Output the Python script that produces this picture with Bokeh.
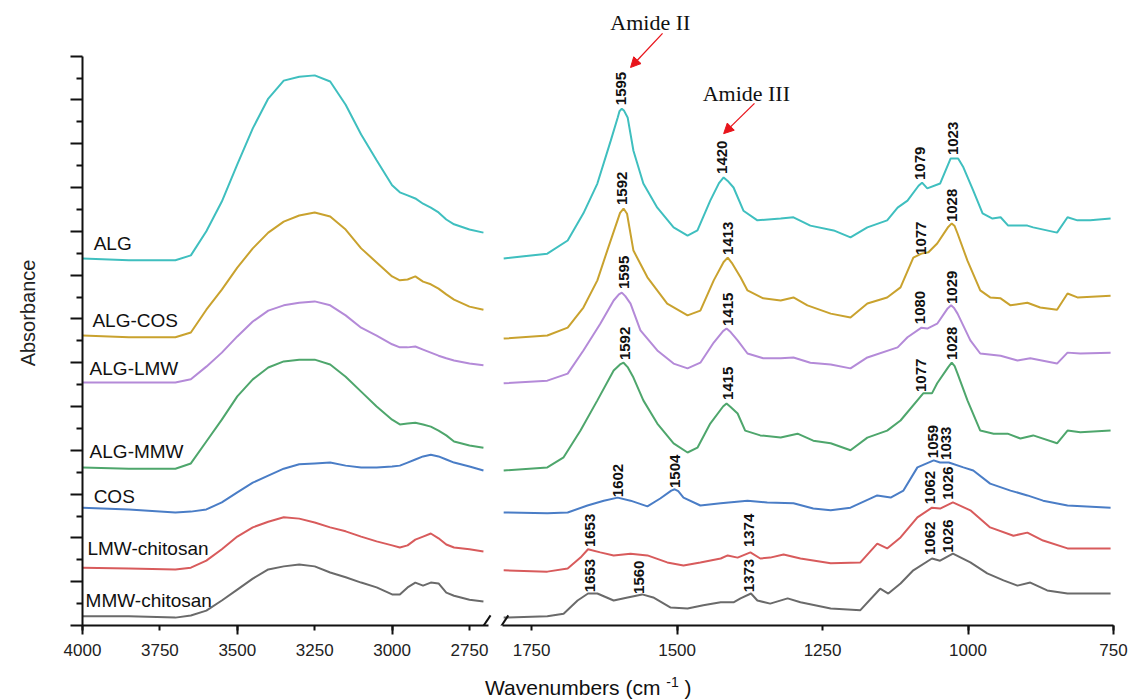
import numpy as np
from bokeh.plotting import figure
from bokeh.models import FixedTicker, Arrow, NormalHead, Div, Range1d
from bokeh.layouts import row, column
from bokeh.embed import file_html
from bokeh.resources import INLINE
from bokeh.core.properties import value

# ---------------- data ----------------
series = ["ALG", "ALG-COS", "ALG-LMW", "ALG-MMW", "COS", "LMW-chitosan", "MMW-chitosan"]
colors = ["#3fbfbf", "#c9a22e", "#b48ad8", "#4ea66c", "#4a7dc6", "#d85b5c", "#6a6a6a"]

# high-wavenumber region (4000-2700 cm-1), common grid
wn_high = [4000, 3850, 3700, 3650, 3600, 3550, 3500, 3450, 3400, 3350, 3300, 3250, 3200,
           3150, 3100, 3050, 3000, 2975, 2950, 2925, 2900, 2875, 2850, 2825, 2800, 2750, 2705]
alg_high = [0.838, 0.834, 0.834, 0.845, 0.900, 0.968, 1.053, 1.135, 1.203, 1.244, 1.253, 1.256, 1.242,
            1.189, 1.121, 1.062, 1.005, 0.989, 0.982, 0.975, 0.963, 0.954, 0.943, 0.927, 0.916, 0.904, 0.897]
algcos_high = [0.662, 0.658, 0.658, 0.669, 0.721, 0.767, 0.817, 0.861, 0.897, 0.922, 0.936, 0.943, 0.934,
               0.904, 0.861, 0.829, 0.797, 0.788, 0.790, 0.797, 0.785, 0.779, 0.769, 0.756, 0.744, 0.728, 0.721]
alglmw_high = [0.555, 0.555, 0.555, 0.562, 0.591, 0.623, 0.660, 0.694, 0.719, 0.731, 0.737, 0.740, 0.731,
               0.708, 0.680, 0.662, 0.642, 0.635, 0.635, 0.637, 0.630, 0.623, 0.616, 0.610, 0.605, 0.598, 0.594]
algmmw_high = [0.361, 0.358, 0.358, 0.370, 0.420, 0.470, 0.523, 0.562, 0.589, 0.603, 0.607, 0.607, 0.596,
               0.568, 0.534, 0.500, 0.470, 0.459, 0.461, 0.463, 0.459, 0.454, 0.445, 0.434, 0.420, 0.411, 0.406]
cos_high = [0.269, 0.265, 0.258, 0.260, 0.265, 0.281, 0.304, 0.326, 0.342, 0.358, 0.368, 0.370, 0.372,
            0.365, 0.361, 0.361, 0.363, 0.365, 0.372, 0.379, 0.386, 0.390, 0.386, 0.379, 0.372, 0.363, 0.354]
lmw_high = [0.132, 0.130, 0.128, 0.132, 0.148, 0.174, 0.203, 0.224, 0.237, 0.247, 0.244, 0.235, 0.224,
            0.215, 0.203, 0.192, 0.183, 0.178, 0.183, 0.196, 0.203, 0.210, 0.199, 0.185, 0.178, 0.174, 0.169]
mmw_high = [0.021, 0.021, 0.018, 0.023, 0.034, 0.057, 0.082, 0.107, 0.128, 0.135, 0.139, 0.135, 0.121,
            0.110, 0.098, 0.087, 0.071, 0.071, 0.087, 0.098, 0.091, 0.098, 0.096, 0.075, 0.068, 0.059, 0.055]

# fingerprint region (1800-750 cm-1), per series
alg_wn = [1798, 1723, 1688, 1661, 1637, 1614, 1602, 1599, 1595, 1591, 1585, 1575, 1558, 1534, 1506, 1482,
          1465, 1443, 1428, 1420, 1413, 1403, 1386, 1362, 1322, 1300, 1271, 1231, 1202, 1173, 1139, 1121,
          1104, 1085, 1079, 1070, 1048, 1030, 1017, 1008, 991, 975, 958, 944, 931, 898, 888, 847, 829, 812,
          790, 755]
alg_ab = [0.838, 0.849, 0.879, 0.941, 1.009, 1.107, 1.160, 1.174, 1.180, 1.175, 1.160, 1.084, 1.009, 0.954, 0.909, 0.890,
          0.902, 0.970, 1.010, 1.023, 1.015, 1.000, 0.947, 0.925, 0.929, 0.932, 0.913, 0.902, 0.886, 0.909, 0.925, 0.954,
          0.970, 1.004, 1.011, 0.998, 1.009, 1.066, 1.066, 1.046, 0.993, 0.941, 0.929, 0.932, 0.913, 0.913, 0.909, 0.897,
          0.932, 0.925, 0.925, 0.929]

algcos_wn = [1798, 1723, 1688, 1661, 1637, 1620, 1598, 1592, 1586, 1575, 1551, 1517, 1482, 1460, 1437, 1420,
             1413, 1406, 1391, 1379, 1352, 1322, 1300, 1276, 1236, 1202, 1173, 1139, 1116, 1094, 1080, 1068,
             1053, 1034, 1028, 1023, 1018, 1001, 979, 962, 944, 927, 898, 876, 847, 829, 812, 755]
algcos_ab = [0.655, 0.662, 0.680, 0.726, 0.788, 0.856, 0.942, 0.952, 0.940, 0.856, 0.795, 0.735, 0.708, 0.719, 0.788, 0.830,
             0.840, 0.828, 0.795, 0.765, 0.747, 0.742, 0.749, 0.731, 0.712, 0.703, 0.735, 0.749, 0.772, 0.840, 0.849, 0.852,
             0.872, 0.910, 0.918, 0.912, 0.895, 0.833, 0.765, 0.749, 0.747, 0.731, 0.737, 0.726, 0.721, 0.758, 0.749, 0.753]

alglmw_wn = [1798, 1723, 1688, 1661, 1632, 1609, 1600, 1595, 1589, 1580, 1563, 1534, 1506, 1482, 1460, 1437,
             1421, 1415, 1408, 1396, 1379, 1352, 1322, 1300, 1271, 1236, 1202, 1173, 1121, 1104, 1080, 1070,
             1053, 1035, 1029, 1024, 1018, 996, 979, 944, 915, 893, 847, 829, 807, 755]
alglmw_ab = [0.553, 0.559, 0.575, 0.628, 0.689, 0.742, 0.756, 0.760, 0.752, 0.735, 0.674, 0.628, 0.598, 0.587, 0.600, 0.646,
             0.672, 0.678, 0.670, 0.651, 0.621, 0.610, 0.610, 0.612, 0.600, 0.596, 0.587, 0.612, 0.635, 0.658, 0.680, 0.678,
             0.689, 0.724, 0.731, 0.725, 0.712, 0.651, 0.621, 0.616, 0.605, 0.610, 0.598, 0.623, 0.621, 0.623]

algmmw_wn = [1798, 1723, 1695, 1666, 1637, 1609, 1598, 1592, 1585, 1575, 1558, 1534, 1506, 1482, 1465, 1443,
             1421, 1415, 1408, 1396, 1383, 1357, 1322, 1293, 1266, 1236, 1202, 1173, 1139, 1116, 1077, 1062,
             1053, 1034, 1028, 1023, 1018, 1001, 979, 956, 932, 910, 888, 847, 829, 807, 755]
algmmw_ab = [0.354, 0.361, 0.384, 0.445, 0.514, 0.582, 0.596, 0.600, 0.590, 0.566, 0.514, 0.461, 0.416, 0.395, 0.406, 0.461,
             0.500, 0.507, 0.499, 0.484, 0.445, 0.434, 0.429, 0.438, 0.422, 0.416, 0.400, 0.429, 0.445, 0.468, 0.530, 0.530,
             0.553, 0.590, 0.600, 0.592, 0.575, 0.514, 0.445, 0.438, 0.438, 0.427, 0.434, 0.416, 0.445, 0.441, 0.445]

cos_wn = [1798, 1723, 1688, 1654, 1626, 1602, 1580, 1551, 1529, 1510, 1504, 1498, 1489, 1460, 1425, 1379,
          1345, 1300, 1266, 1236, 1202, 1156, 1133, 1111, 1087, 1059, 1048, 1033, 1008, 991, 962, 927, 898,
          871, 829, 755]
cos_ab = [0.258, 0.256, 0.258, 0.274, 0.285, 0.292, 0.285, 0.272, 0.290, 0.308, 0.311, 0.307, 0.292, 0.274, 0.279, 0.285,
          0.281, 0.279, 0.267, 0.263, 0.269, 0.297, 0.292, 0.308, 0.361, 0.377, 0.372, 0.372, 0.361, 0.354, 0.324, 0.308,
          0.297, 0.285, 0.274, 0.269]

lmw_wn = [1798, 1723, 1688, 1666, 1653, 1632, 1609, 1580, 1551, 1517, 1489, 1460, 1425, 1413, 1396, 1374,
          1357, 1340, 1317, 1288, 1236, 1185, 1156, 1139, 1116, 1087, 1062, 1048, 1026, 996, 962, 922, 898,
          871, 829, 755]
lmw_ab = [0.126, 0.123, 0.130, 0.155, 0.174, 0.167, 0.160, 0.164, 0.160, 0.144, 0.137, 0.144, 0.153, 0.160, 0.155, 0.167,
          0.153, 0.155, 0.162, 0.153, 0.142, 0.144, 0.187, 0.176, 0.201, 0.247, 0.269, 0.267, 0.281, 0.263, 0.224, 0.205,
          0.212, 0.194, 0.176, 0.176]

mmw_wn = [1798, 1723, 1695, 1671, 1653, 1637, 1609, 1585, 1560, 1541, 1511, 1482, 1455, 1425, 1403, 1391,
          1373, 1362, 1340, 1310, 1288, 1236, 1185, 1151, 1137, 1116, 1094, 1062, 1048, 1026, 996, 967, 939,
          915, 893, 864, 829, 755]
mmw_ab = [0.018, 0.021, 0.027, 0.057, 0.073, 0.073, 0.057, 0.064, 0.071, 0.064, 0.041, 0.039, 0.046, 0.053, 0.053, 0.062,
          0.073, 0.057, 0.050, 0.062, 0.053, 0.039, 0.035, 0.084, 0.073, 0.096, 0.126, 0.153, 0.148, 0.164, 0.144, 0.119,
          0.103, 0.091, 0.098, 0.080, 0.073, 0.073]

high_vals = [alg_high, algcos_high, alglmw_high, algmmw_high, cos_high, lmw_high, mmw_high]
low_wns = [alg_wn, algcos_wn, alglmw_wn, algmmw_wn, cos_wn, lmw_wn, mmw_wn]
low_vals = [alg_ab, algcos_ab, alglmw_ab, algmmw_ab, cos_ab, lmw_ab, mmw_ab]

# peak annotations (label text, wavenumber position, absorbance of label base)
peak_text = ["1595", "1420", "1079", "1023",
             "1592", "1413", "1077", "1028",
             "1595", "1415", "1080", "1029",
             "1592", "1415", "1077", "1028",
             "1602", "1504", "1059", "1033",
             "1653", "1374", "1062", "1026",
             "1653", "1560", "1373", "1062", "1026"]
peak_x = [1597, 1422, 1082, 1025,
          1594, 1413, 1080, 1027,
          1592, 1412, 1082, 1027,
          1590, 1412, 1080, 1027,
          1601, 1503, 1060, 1037,
          1649, 1376, 1065, 1035,
          1649, 1565, 1376, 1066, 1035]
peak_y = [1.188, 1.031, 1.017, 1.074,
          0.960, 0.846, 0.846, 0.921,
          0.768, 0.684, 0.688, 0.734,
          0.606, 0.515, 0.533, 0.606,
          0.293, 0.314, 0.382, 0.378,
          0.179, 0.179, 0.277, 0.287,
          0.076, 0.072, 0.076, 0.161, 0.166]

# series name labels (placed at left)
name_x = [3964, 3968, 3977, 3977, 3964, 3984, 3990]
name_y = [0.872, 0.696, 0.587, 0.397, 0.295, 0.176, 0.057]

# ---------------- figures ----------------
yr = Range1d(0, 625 / 438)
AX_FONT = "Liberation Sans"
INK = "#111111"

left = figure(width=493, height=670, x_range=Range1d(4000, 2672.5), y_range=yr,
              output_backend="svg", toolbar_location=None, title=None,
              min_border_left=82, min_border_right=0, min_border_top=0, min_border_bottom=45)
right = figure(width=635, height=670, x_range=Range1d(1815.5, 750), y_range=yr,
               output_backend="svg", toolbar_location=None, title=None, y_axis_location=None,
               min_border_left=0, min_border_right=15, min_border_top=0, min_border_bottom=45)

for p in (left, right):
    p.outline_line_color = None
    p.xgrid.visible = False
    p.ygrid.visible = False
    p.background_fill_color = "white"
    p.border_fill_color = "white"
    ax = p.xaxis[0]
    ax.axis_line_width = 2
    ax.axis_line_color = INK
    ax.major_tick_line_width = 2
    ax.minor_tick_line_width = 2
    ax.major_tick_line_color = INK
    ax.minor_tick_line_color = INK
    ax.major_tick_in = 0
    ax.minor_tick_in = 0
    ax.major_tick_out = 5
    ax.minor_tick_out = 9
    ax.major_label_standoff = 9
    ax.major_label_text_font = AX_FONT
    ax.major_label_text_font_size = "17px"
    ax.major_label_text_color = "#222222"

left.xaxis[0].ticker = FixedTicker(ticks=[4000, 3750, 3500, 3250, 3000, 2750], minor_ticks=[4000, 3500, 3000])
left.xaxis[0].bounds = (4000, 2690)
right.xaxis[0].ticker = FixedTicker(ticks=[1750, 1500, 1250, 1000, 750], minor_ticks=[1500, 1000, 750])
right.xaxis[0].bounds = (1800, 750)

# y axis: unlabeled ticks, long every 0.1, short between
ya = left.yaxis[0]
ya.ticker = FixedTicker(ticks=[i / 10 for i in range(14)], minor_ticks=[i / 10 + 0.05 for i in range(13)])
ya.bounds = (0, 1.3)
ya.axis_line_width = 2
ya.axis_line_color = INK
ya.major_tick_line_width = 2
ya.minor_tick_line_width = 2
ya.major_tick_line_color = INK
ya.minor_tick_line_color = INK
ya.major_tick_in = 0
ya.minor_tick_in = 0
ya.major_tick_out = 12
ya.minor_tick_out = 6
ya.major_label_text_font_size = "0px"
ya.major_label_text_alpha = 0
ya.major_label_text_color = None
ya.major_label_standoff = 5
ya.axis_label = "Absorbance"
ya.axis_label_text_font = AX_FONT
ya.axis_label_text_font_size = "20px"
ya.axis_label_text_font_style = "normal"
ya.axis_label_text_color = "#222222"
ya.axis_label_standoff = 32

# spectra
for vals, c in zip(high_vals, colors):
    left.line(wn_high, vals, line_color=c, line_width=2)
for wns, vals, c in zip(low_wns, low_vals, colors):
    right.line(wns, vals, line_color=c, line_width=2)

# series names
left.text(x=name_x, y=name_y, text=series, text_font=value(AX_FONT), text_font_size="19px",
          text_align="left", text_baseline="middle", text_color=INK)

# peak labels
right.text(x=peak_x, y=peak_y, text=peak_text, angle=np.pi / 2, text_font=value(AX_FONT),
           text_font_size="15px", text_font_style="bold", text_align="left", text_baseline="middle",
           text_color=INK)

# Amide annotations
right.text(x=[1546, 1381], y=[1.377, 1.215], text=["Amide II", "Amide III"],
           text_font=value("Liberation Serif"), text_font_size="22px",
           text_align="center", text_baseline="middle", text_color=INK)
for xs, ys, xe, ye in [(1525, 1.352, 1580, 1.274), (1367, 1.192, 1420, 1.123)]:
    right.add_layout(Arrow(end=NormalHead(size=10, fill_color="#e8141b", line_color="#e8141b"),
                           x_start=xs, y_start=ys, x_end=xe, y_end=ye,
                           line_color="#e8141b", line_width=1.3))

# axis break marks
left.add_layout(Arrow(end=None, x_start=2730, y_start=-0.027, x_end=2682, y_end=0.023,
                      line_color=INK, line_width=2))
right.add_layout(Arrow(end=None, x_start=1815, y_start=-0.027, x_end=1790, y_end=0.023,
                       line_color=INK, line_width=2))

title = Div(text='<div style="padding-left:485px;padding-top:0px;line-height:24px;'
                 'font-family:\'Liberation Sans\',Arial,sans-serif;font-size:21px;color:#111;">'
                 'Wavenumbers (cm <sup style="font-size:14px">-1</sup> )</div>',
            width=1128, height=30, margin=0)

layout = column(row(left, right), title)
open("out.html", "w").write(file_html(layout, INLINE))
